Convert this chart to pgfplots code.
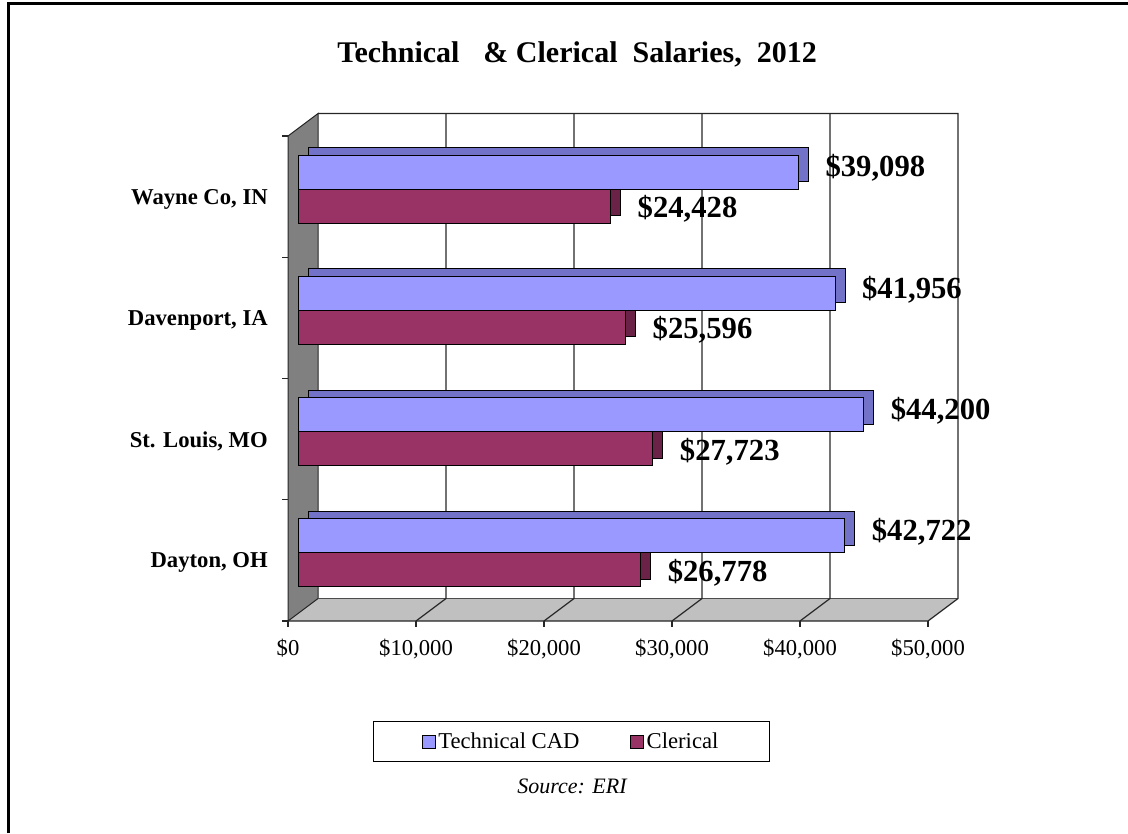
\documentclass[border=0pt]{standalone}
\usepackage{fontspec}
\setmainfont{Liberation Serif}
\usepackage{pgfplots}
\pgfplotsset{compat=1.18}
\definecolor{techF}{HTML}{9999FF}
\definecolor{techS}{HTML}{7272C8}
\definecolor{clerF}{HTML}{993366}
\definecolor{clerS}{HTML}{6A2246}
\definecolor{wallgray}{HTML}{808080}
\definecolor{floorgray}{HTML}{C0C0C0}
\tikzset{F/.style={shift={(-7.5pt,-5.625pt)}}, B/.style={shift={(15pt,11.25pt)}}}
\begin{document}
\begin{tikzpicture}
\useasboundingbox (0,0) rectangle (846pt,624.75pt);
\draw[line width=2.25pt] (6.375pt,0) -- (6.375pt,621.75pt) -- (846pt,621.75pt);
\node[font=\fontsize{22.5}{26}\selectfont\bfseries] at (432.75pt,584pt) {Technical\hspace{0.8em}\& Clerical\hspace{0.5em}Salaries,\hspace{0.5em}2012};
\node[font=\fontsize{16.5}{20}\selectfont\itshape] at (429pt,35.25pt) {Source: ERI};
\begin{axis}[
  at={(223.5pt,164.625pt)}, anchor=south west,
  scale only axis, width=480pt, height=363.75pt,
  xmin=0, xmax=50000, ymin=-0.5, ymax=3.5,
  clip=false,
  axis line style={draw=none},
  major tick length=0pt,
  scaled x ticks=false,
  xtick={0,10000,20000,30000,40000,50000},
  xticklabels={\$0,{\$10,000},{\$20,000},{\$30,000},{\$40,000},{\$50,000}},
  ytick={0,1,2,3},
  yticklabels={{Dayton, OH},{St. Louis, MO},{Davenport, IA},{Wayne Co, IN}},
  xticklabel style={font=\fontsize{17}{20}\selectfont, anchor=north, inner sep=0pt, xshift=-7.5pt, yshift=-18.75pt},
  yticklabel style={font=\fontsize{17}{20}\selectfont\bfseries, anchor=east, inner sep=0pt, xshift=-22.5pt, yshift=-7.5pt},
  xbar, bar width=25.5pt,
  legend columns=2,
  legend style={at={(0.4273,-0.2639)}, anchor=center, draw=black, line width=0.75pt,
    font=\fontsize{17}{20}\selectfont, inner xsep=36pt, inner ysep=6pt,
    /tikz/every even column/.append style={column sep=36pt}},
]
% floor
\fill[floorgray] ([F]axis cs:0,-0.5) -- ([F]axis cs:50000,-0.5) -- ([B]axis cs:50000,-0.5) -- ([B]axis cs:0,-0.5) -- cycle;
% left wall
\filldraw[fill=wallgray, draw=black!85, line width=0.75pt] ([F]axis cs:0,-0.5) -- ([F]axis cs:0,3.5) -- ([B]axis cs:0,3.5) -- ([B]axis cs:0,-0.5) -- cycle;
% back wall outline and floor edges
\draw[black!70, line width=0.5pt] ([B]axis cs:0,-0.5) -- ([B]axis cs:50000,-0.5);
\draw[black!85, line width=0.9pt] ([B]axis cs:0,3.5) -- ([B]axis cs:50000,3.5) -- ([B]axis cs:50000,-0.5) -- ([F]axis cs:50000,-0.5) -- ([F]axis cs:0,-0.5);
\pgfplotsinvokeforeach{10000,20000,30000,40000}{
  \draw[black!85, line width=0.9pt] ([F]axis cs:#1,-0.5) -- ([B]axis cs:#1,-0.5) -- ([B]axis cs:#1,3.5);
}
\pgfplotsinvokeforeach{0,10000,20000,30000,40000,50000}{
  \draw[black!85, line width=0.9pt] ([F]axis cs:#1,-0.5) -- ([F,yshift=-4.5pt]axis cs:#1,-0.5);
}
\pgfplotsinvokeforeach{-0.5,0.5,1.5,2.5,3.5}{
  \draw[black!85, line width=0.9pt] ([F]axis cs:0,#1) -- ([F,xshift=-4.5pt]axis cs:0,#1);
}
% depth (shadow) faces
\addplot[forget plot, fill=clerS, draw=black, line width=0.6pt, bar shift=-12.75pt, xshift=7.5pt, yshift=5.625pt]
  coordinates {(26778,0) (27723,1) (25596,2) (24428,3)};
\addplot[forget plot, fill=techS, draw=black, line width=0.6pt, bar shift=12.75pt, xshift=7.5pt, yshift=5.625pt]
  coordinates {(42722,0) (44200,1) (41956,2) (39098,3)};
% front faces
\addplot[fill=techF, draw=black, line width=0.6pt, bar shift=12.75pt,
  legend image code/.code={\draw[fill=techF, draw=black, line width=0.6pt] (0pt,-4.875pt) rectangle (9.75pt,4.875pt);},
  point meta=x,
  nodes near coords={\$\pgfmathprintnumber[fixed,precision=0,1000 sep={,},assume math mode=true]{\pgfplotspointmeta}},
  every node near coord/.append style={font=\fontsize{23}{27}\selectfont\bfseries, anchor=west, inner sep=0pt, xshift=20pt, yshift=3pt, text=black}]
  coordinates {(42722,0) (44200,1) (41956,2) (39098,3)};
\addlegendentry{Technical CAD}
\addplot[fill=clerF, draw=black, line width=0.6pt, bar shift=-12.75pt,
  legend image code/.code={\draw[fill=clerF, draw=black, line width=0.6pt] (0pt,-4.875pt) rectangle (9.75pt,4.875pt);},
  point meta=x,
  nodes near coords={\$\pgfmathprintnumber[fixed,precision=0,1000 sep={,},assume math mode=true]{\pgfplotspointmeta}},
  every node near coord/.append style={font=\fontsize{23}{27}\selectfont\bfseries, anchor=west, inner sep=0pt, xshift=20pt, yshift=-2pt, text=black}]
  coordinates {(26778,0) (27723,1) (25596,2) (24428,3)};
\addlegendentry{Clerical}
\end{axis}
\end{tikzpicture}
\end{document}
